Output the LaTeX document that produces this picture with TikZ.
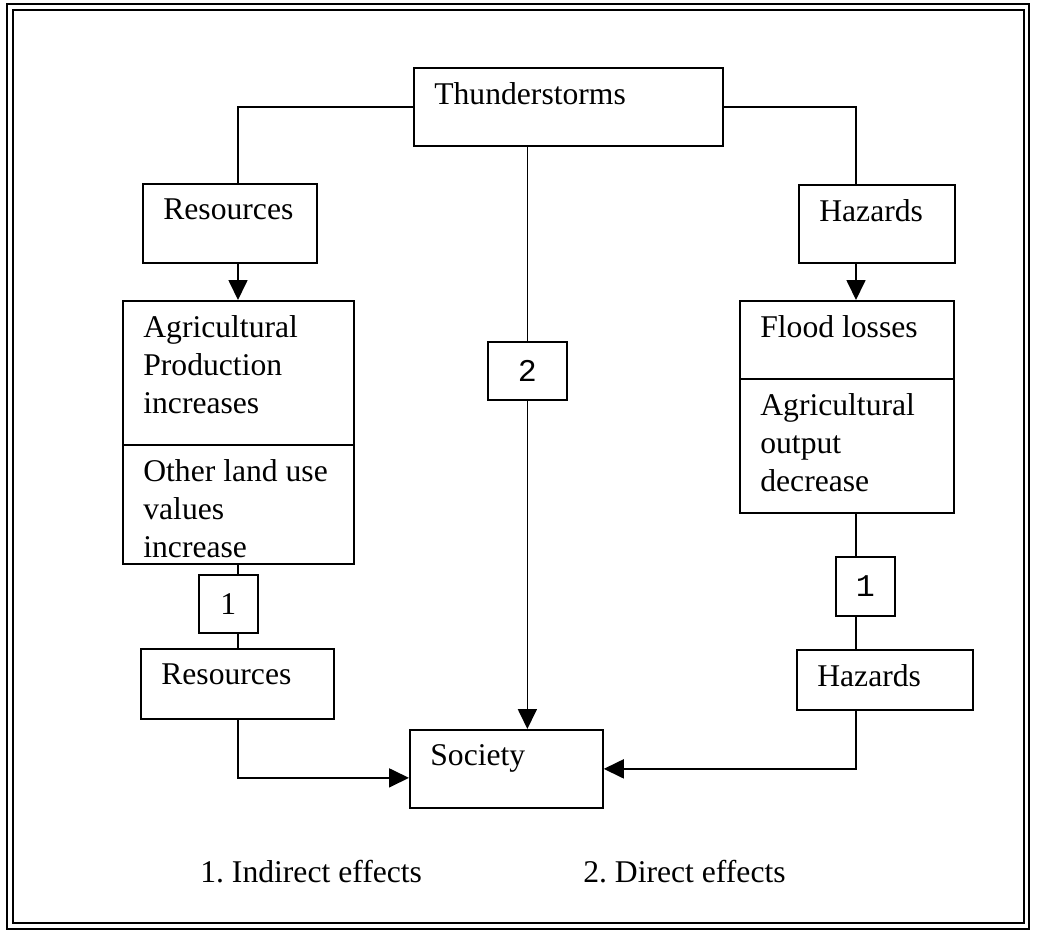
\documentclass[tikz,border=0pt]{standalone}
\usepackage{fontspec}
\setmainfont{Liberation Serif}
\newfontfamily\monofont{Liberation Mono}
\usetikzlibrary{arrows.meta}
\newcommand{\bodyfont}{\fontsize{18}{21.5}\selectfont}
\frenchspacing

\tikzset{
  box/.style={draw, line width=1pt, fill=white, anchor=north west, inner sep=0pt},
  txt/.style={anchor=north west, inner xsep=4.2mm, inner ysep=3.1mm, align=left},
  num/.style={draw, line width=1pt, fill=white, anchor=north west, inner sep=0pt},
  link/.style={line width=1pt},
  arr/.style={line width=1pt, -{Triangle[length=4mm,width=3.8mm]}}
}

\begin{document}
\begin{tikzpicture}[x=0.2mm, y=-0.2mm, font=\bodyfont]
\useasboundingbox (0,0) rectangle (1040,932);

        % Double frame round the picture
        \draw[line width=1pt] (7,4) rectangle (1029,929);
        \draw[line width=1pt] (13,10) rectangle (1024,923);

        % Define columns of the side connectors
        \coordinate (L) at (238,0);        % Left column
        \coordinate (R) at (856,0);        % Right column

        % Draw top box
        \node[box, minimum width=61.8mm, minimum height=15.6mm, label={[txt]north west:Thunderstorms}] (storm) at (413,67) {};

        % Draw left boxes
        \node[box, minimum width=34.8mm, minimum height=15.8mm, label={[txt]north west:Resources}] (res) at (142,183) {};
        \node[box, minimum width=46.2mm, minimum height=28.8mm, label={[txt]north west:Agricultural\\Production\\increases}] (agri) at (122,300) {};
        \node[box, minimum width=46.2mm, minimum height=23.8mm, label={[txt]north west:Other land use\\values\\increase}] (agrib) at (122,444) {};
        \node[num, minimum width=11.8mm, minimum height=11.6mm] (oneL) at (198,574) {1};
        \node[box, minimum width=38.6mm, minimum height=14mm, label={[txt]north west:Resources}] (resb) at (140,648) {};

        % Draw middle boxes
        \node[num, minimum width=15.8mm, minimum height=11.6mm, font=\bodyfont\monofont] (two) at (487,341) {2};
        \node[box, minimum width=38.6mm, minimum height=15.6mm, label={[txt]north west:Society}] (soc) at (409,729) {};

        % Draw right boxes
        \node[box, minimum width=31.2mm, minimum height=15.6mm, label={[txt]north west:Hazards}] (haz) at (798,184) {};
        \node[box, minimum width=42.8mm, minimum height=15.6mm, label={[txt]north west:Flood losses}] (flood) at (739,300) {};
        \node[box, minimum width=42.8mm, minimum height=26.8mm, label={[txt]north west:Agricultural\\output\\decrease}] (floodb) at (739,378) {};
        \node[num, minimum width=11.8mm, minimum height=11.8mm, font=\bodyfont\monofont] (oneR) at (835,556) {1};
        \node[box, minimum width=35.2mm, minimum height=12mm, label={[txt]north west:Hazards}] (hazb) at (796,649) {};

        % Left connectors
        \draw[link] (storm.west) -| (L |- res.north);
        \draw[arr] (L |- res.south) -- (L |- agri.north);
        \draw[link] (L |- agrib.south) -- (L |- oneL.north);
        \draw[link] (L |- oneL.south) -- (L |- resb.north);
        \draw[arr] (L |- resb.south) |- ([yshift=-1.8mm]soc.west);

        % Middle connectors
        \draw[link] (storm.south -| two.north) -- (two.north);
        \draw[arr] (two.south) -- (two.south |- soc.north);

        % Right connectors
        \draw[link] (storm.east) -| (R |- haz.north);
        \draw[arr] (R |- haz.south) -- (R |- flood.north);
        \draw[link] (R |- floodb.south) -- (R |- oneR.north);
        \draw[link] (R |- oneR.south) -- (R |- hazb.north);
        \draw[arr] (R |- hazb.south) |- (soc.east);

        % Legend
        \node[anchor=base west, inner sep=0pt] (ind) at (200,882) {1. Indirect effects};
        \node[anchor=base west, inner sep=0pt] (dir) at (583,882) {2. Direct effects};
\end{tikzpicture}
\end{document}
